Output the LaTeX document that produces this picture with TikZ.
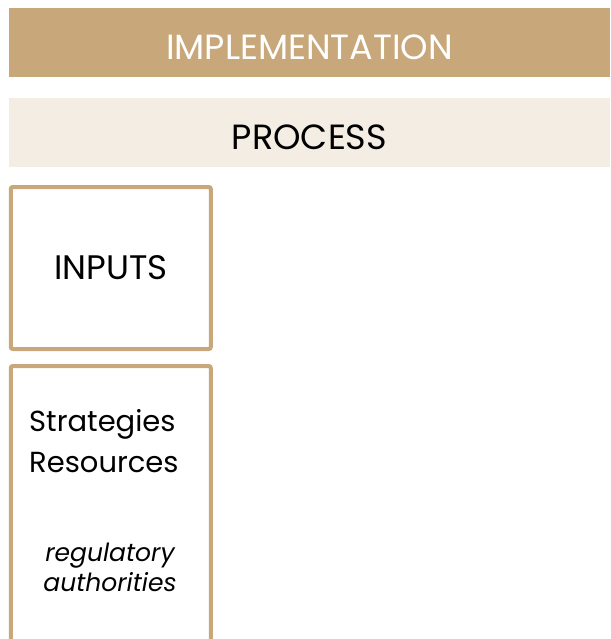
\documentclass[tikz,border=0pt]{standalone}
\usepackage{fontspec}
\setmainfont{Poppins}
\usepackage{xcolor}
\usepackage{tikz}
\usetikzlibrary{positioning}
\definecolor{tan}{RGB}{200, 168, 122}
\definecolor{beige}{RGB}{243, 237, 227}
\tikzstyle{banner} = [rectangle, minimum width=601pt, minimum height=69pt, inner sep=0pt, text centered, text height=34pt, text depth=0pt, font=\fontsize{35}{40}\selectfont]
\tikzstyle{stagebox} = [rectangle, rounded corners=2pt, draw=tan, line width=4pt, fill=white, inner sep=0pt, minimum width=200pt]
\tikzstyle{boxtext} = [inner sep=0pt, anchor=west, align=left]

\begin{document}
\begin{tikzpicture}[x=1pt, y=-1pt]
    \useasboundingbox (0,0) rectangle (610,639);
    \clip (0,0) rectangle (610,639);

    % Header bars
    \node[banner, fill=tan, text=white] (impl) at (309.5, 42.5) {IMPLEMENTATION};
    \node[banner, fill=beige] (process) at (309.5, 132.5) {PROCESS};

    % Inputs column
    \node[stagebox, minimum height=162pt, font=\fontsize{34}{40}\selectfont] (inputs) at (110.75, 268) {INPUTS};
    \node[stagebox, minimum height=290pt] (inputlist) at (110.75, 511) {};

    % Contents of the list box
    \node[boxtext, font=\fontsize{29}{40}\selectfont] (strat) at (29, 424) {Strategies};
    \node[boxtext, font=\fontsize{29}{40}\selectfont] (res) at (29, 463) {Resources};
    \node[boxtext, font=\fontsize{25}{30}\selectfont\itshape, align=center, anchor=center] (reg) at (110, 567) {regulatory\\authorities};
\end{tikzpicture}
\end{document}
